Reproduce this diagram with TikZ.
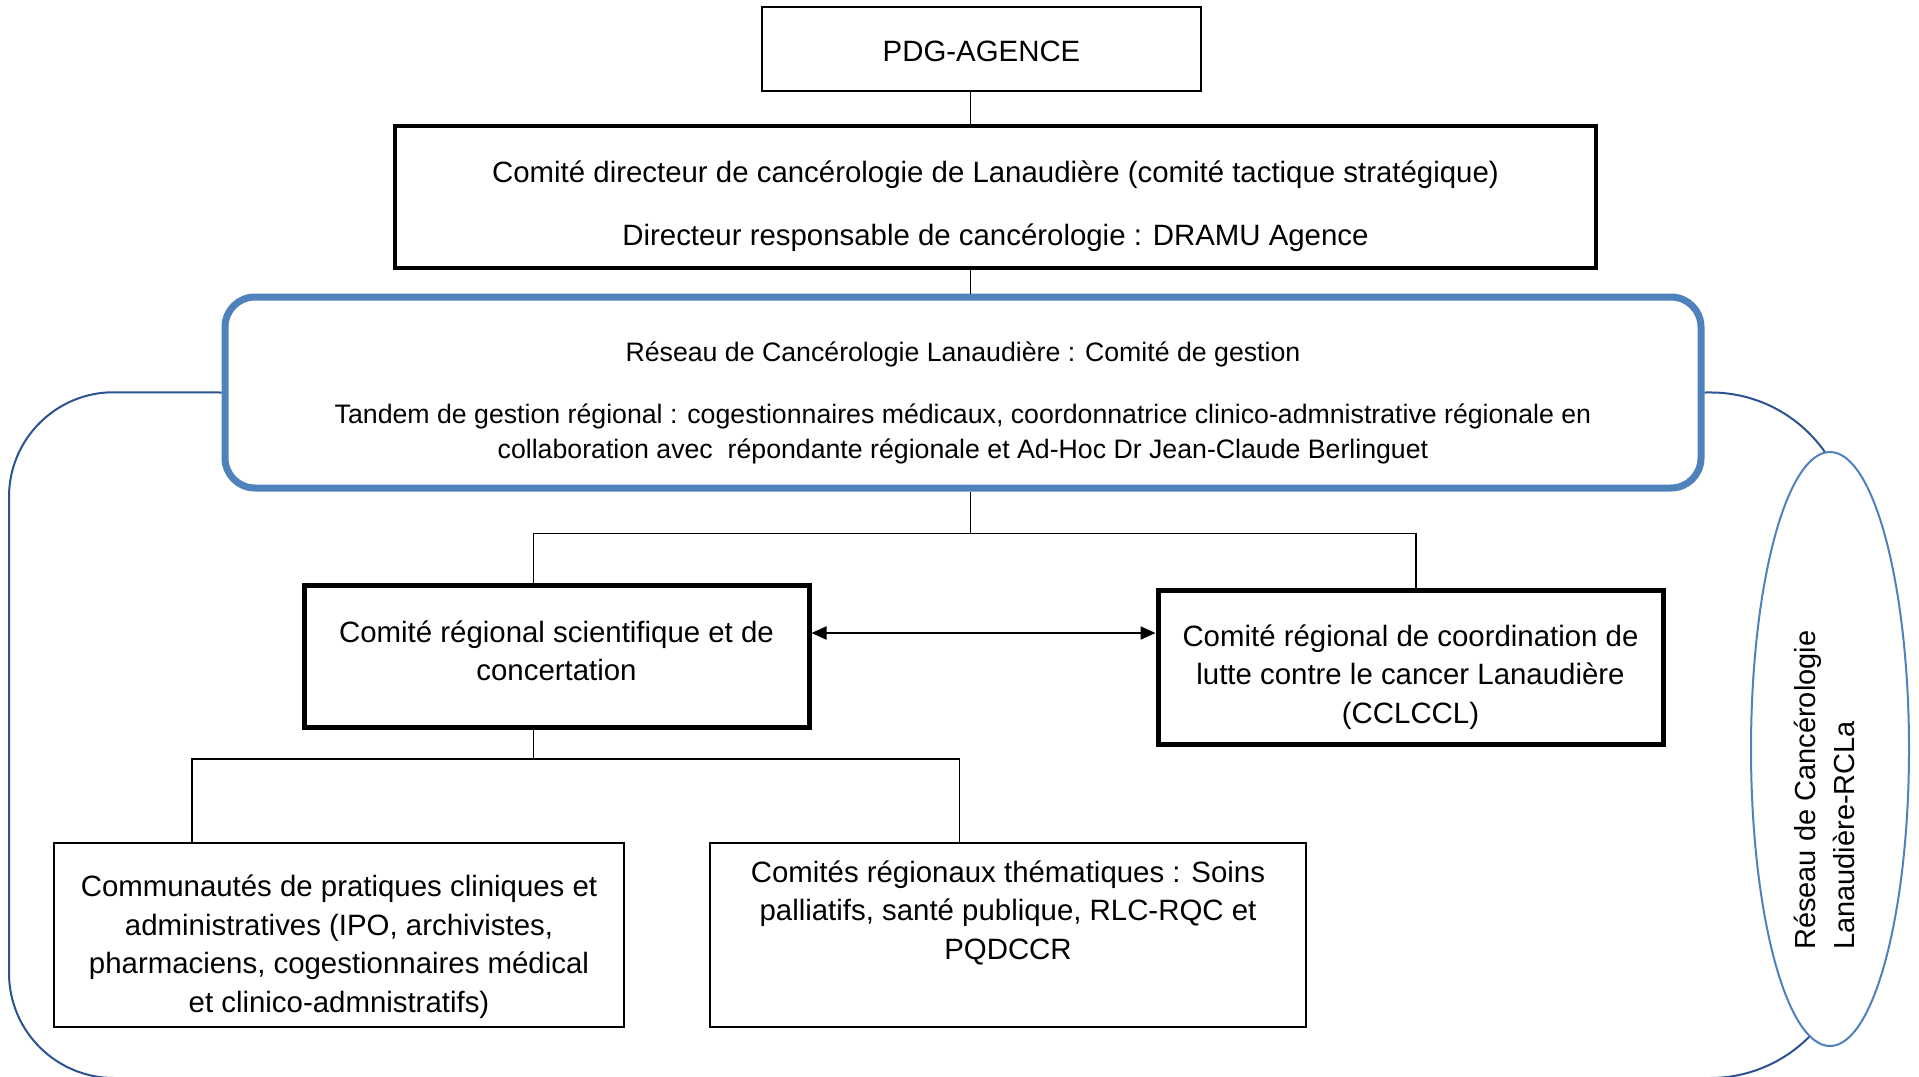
\documentclass[tikz,border=0pt]{standalone}
\usepackage{fontspec}
\setmainfont{Liberation Sans}
\usepackage{xcolor}
\usetikzlibrary{shapes,arrows.meta,positioning,calc}
\definecolor{rclblue}{HTML}{4F81BD}
\definecolor{loopblue}{HTML}{2B5391}

\begin{document}
\begin{tikzpicture}[x=1pt,y=-1pt,
    frame/.style={draw, inner sep=0pt},
    txt/.style={align=center, inner sep=0pt, font=\fontsize{29.4}{38.5}\selectfont},
    wire/.style={line width=1.6pt},
    duplex/.style={line width=2pt, {Triangle[length=15pt,width=13pt]}-{Triangle[length=15pt,width=13pt]}}]
    \useasboundingbox (0,0) rectangle (1919,1076);

    % top of the chain
    \node[frame, line width=2pt, minimum width=439pt, minimum height=84pt] (pdg) at (981.5,49) {};
    \node[txt] (pdgtext) at (981.5,51.5) {PDG-AGENCE};
    \node[frame, line width=4pt, minimum width=1201pt, minimum height=142pt] (dir) at (995.5,197) {};
    \node[txt] (dirtext) at (995.5,206)
        {Comité directeur de cancérologie de Lanaudière (comité tactique stratégique)\\[25pt]
         Directeur responsable de cancérologie : DRAMU Agence};
    \node[frame, draw=rclblue, line width=7pt, rounded corners=30pt, minimum width=1476pt, minimum height=191pt] (res) at (963,392.5) {};
    \node[txt, font=\fontsize{26.7}{35.5}\selectfont] (restext) at (963,403)
        {Réseau de Cancérologie Lanaudière : Comité de gestion\\[26pt]
         Tandem de gestion régional : cogestionnaires médicaux, coordonnatrice clinico-admnistrative régionale en\\
         collaboration avec~ répondante régionale et Ad-Hoc Dr Jean-Claude Berlinguet};

    % regional committees
    \node[frame, line width=5pt, minimum width=505pt, minimum height=142pt] (sci) at (556.5,656) {};
    \node[txt] (scitext) at (556.5,651) {Comité régional scientifique et de\\concertation};
    \node[frame, line width=5pt, minimum width=505pt, minimum height=154pt] (ccl) at (1410.5,667) {};
    \node[txt] (ccltext) at (1410.5,677) {Comité régional de coordination de\\lutte contre le cancer Lanaudière\\(CCLCCL)};
    \node[frame, line width=2pt, minimum width=570pt, minimum height=184pt] (com) at (339,935) {};
    \node[txt] (comtext) at (339,946.5)
        {Communautés de pratiques cliniques et\\administratives (IPO, archivistes,\\pharmaciens, cogestionnaires médical\\et clinico-admnistratifs)};
    \node[frame, line width=2pt, minimum width=596pt, minimum height=184pt] (the) at (1008,935) {};
    \node[txt] (thetext) at (1008,912.5) {Comités régionaux thématiques : Soins\\palliatifs, santé publique, RLC-RQC et\\PQDCCR};

    % connectors
    \coordinate (trunk) at (970.6,533.6);
    \coordinate (split) at (533.6,758.8);
    \draw[wire] (pdg.south -| trunk) -- (dir.north -| trunk);
    \draw[wire] (dir.south -| trunk) -- (res.north -| trunk);
    \draw[wire] (res.south -| trunk) -- (trunk);
    \draw[wire] (trunk) -| (sci.north -| split);
    \draw[wire] (trunk) -| (ccl.north -| 1416,0);
    \draw[wire] (sci.south -| split) -- (split);
    \draw[wire] (split) -| (com.north -| 192,0);
    \draw[wire] (split) -| (the.north -| 959.5,0);
    \draw[duplex] (sci.east |- 0,633) -- (ccl.west |- 0,633);

    % network loop
    \draw[loopblue, line width=2pt] (res.west) [rounded corners=105pt] -- (9,392) -- (9,1078)
        [rounded corners=140pt] -- (1850,1078) -- (1850,392) -- (res.east);
    \node[ellipse, draw=rclblue, fill=white, line width=2pt, minimum width=158pt, minimum height=594pt] (rcl) at (1830,749) {};
    \node[txt, rotate=90, anchor=west, align=left, font=\fontsize{29}{39}\selectfont] (rcltext) at (1824.5,950)
        {Réseau de Cancérologie\\Lanaudière-RCLa};
\end{tikzpicture}
\end{document}
